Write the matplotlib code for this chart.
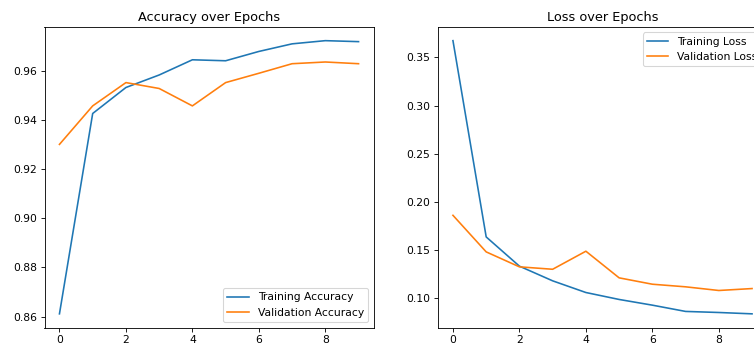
import matplotlib
matplotlib.use('Agg')
import matplotlib.pyplot as plt

epochs = list(range(10))
train_acc = [0.8611, 0.9428, 0.9534, 0.9585, 0.9647, 0.9643, 0.9681, 0.9712, 0.9725, 0.9721]
val_acc = [0.9302, 0.9459, 0.9554, 0.9530, 0.9459, 0.9554, 0.9592, 0.9631, 0.9638, 0.9631]
train_loss = [0.3672, 0.1638, 0.1335, 0.1183, 0.1062, 0.0990, 0.0931, 0.0866, 0.0855, 0.0841]
val_loss = [0.1862, 0.1483, 0.1328, 0.1303, 0.1490, 0.1214, 0.1148, 0.1121, 0.1083, 0.1103]

W, H = 754, 348
DPI = 77.6  # reference looks like a scaled-down render
fig = plt.figure(figsize=(W / DPI, H / DPI), dpi=DPI)

# the original picture is cropped on the right, so the second axes runs past the edge
ax1 = fig.add_axes([44.5 / W, 20.5 / H, 329 / W, 300.5 / H])
ax2 = fig.add_axes([438 / W, 20.5 / H, 329 / W, 300.5 / H])

ax1.plot(epochs, train_acc, label='Training Accuracy')
ax1.plot(epochs, val_acc, label='Validation Accuracy')
ax1.set_title('Accuracy over Epochs')
ax1.legend(loc='lower right')

ax2.plot(epochs, train_loss, label='Training Loss')
ax2.plot(epochs, val_loss, label='Validation Loss')
ax2.set_title('Loss over Epochs')
ax2.legend(loc='upper right')

fig.savefig('out.png', dpi=DPI)
